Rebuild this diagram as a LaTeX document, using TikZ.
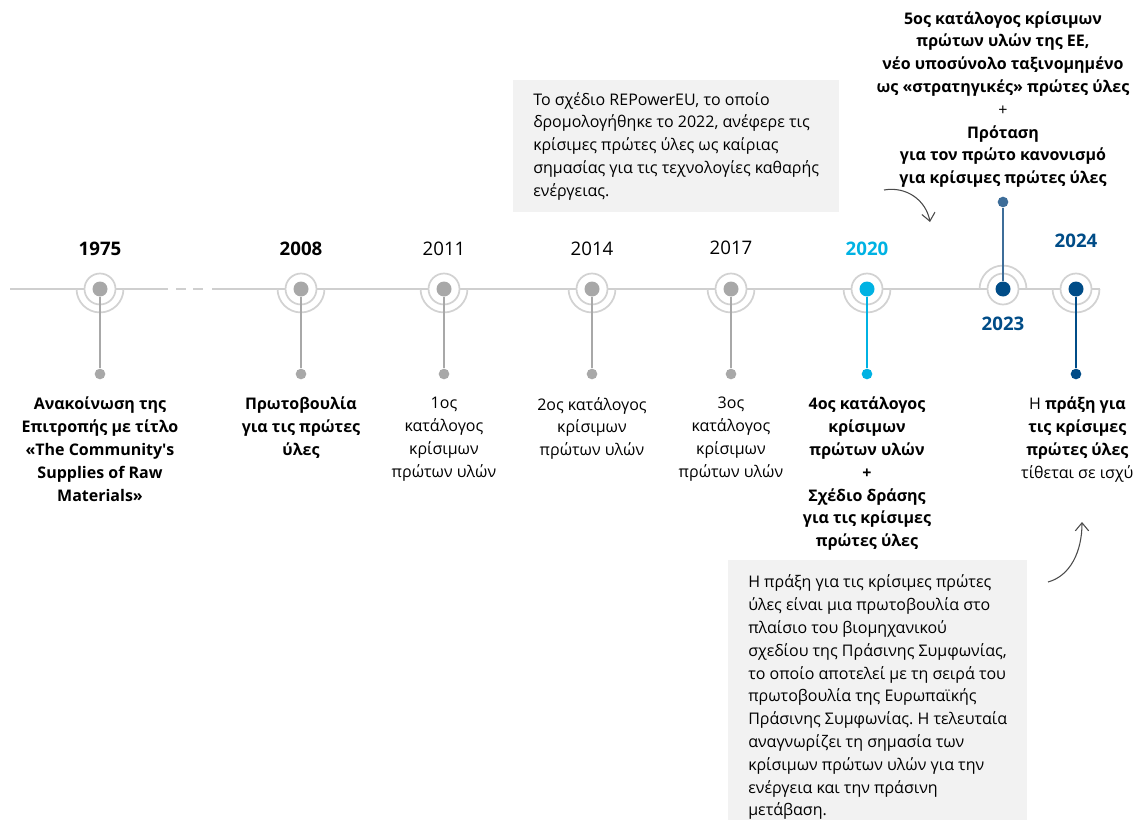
\documentclass[tikz,border=0pt]{standalone}
\usepackage{fontspec}
\setmainfont{Open Sans}
\usetikzlibrary{arrows.meta,positioning}
\definecolor{dotgray}{HTML}{A8A8A8}
\definecolor{ringgray}{HTML}{D2D2D2}
\definecolor{linegray}{HTML}{CFCFCF}
\definecolor{euCyan}{HTML}{00B2E3}
\definecolor{euNavy}{HTML}{004C87}
\definecolor{euSteel}{HTML}{3D6D99}
\definecolor{noteGray}{HTML}{F2F2F2}
\definecolor{arrowGray}{HTML}{4A4A4A}
\tikzset{
     timeline/.style = {draw=linegray, line width=1.5pt},
     ring/.style     = {circle, draw=ringgray, line width=1.3pt, fill=white, minimum size=23.25pt, inner sep=0pt},
     halo/.style     = {draw=ringgray, line width=1.3pt},
     event/.style    = {circle, fill=#1, minimum size=11.25pt, inner sep=0pt},
     tip/.style      = {circle, fill=#1, minimum size=8pt, inner sep=0pt},
     stem/.style     = {draw=#1, line width=1.5pt},
     year/.style     = {inner sep=0pt, font=\fontsize{14}{17}\selectfont},
     evtext/.style   = {inner sep=0pt, align=center, font=\fontsize{12}{17.1}\selectfont},
     evbold/.style   = {evtext, font=\fontsize{12}{17.1}\selectfont\bfseries},
     note/.style     = {fill=noteGray, anchor=north west, align=left, inner xsep=15pt,
                        font=\fontsize{12}{17.1}\selectfont},
     curvy/.style    = {draw=arrowGray, line width=0.8pt, -{Straight Barb[length=6pt,width=10pt]}},
    }
\begin{document}
\frenchspacing
\begin{tikzpicture}[x=0.75pt,y=-0.75pt]
    \useasboundingbox (0,0) rectangle (1134,820);

    % timeline
    \coordinate (tlA) at (10,289);
    \coordinate (tlB) at (168,289);
    \coordinate (tlC) at (212,289);
    \coordinate (tlD) at (1100,289);
    \draw[timeline] (tlA) -- (tlB) (tlC) -- (tlD);
    \draw[timeline, dash pattern=on 0pt off 6pt on 7.5pt off 5.25pt on 7.5pt off 6.75pt] (tlB) -- (tlC);

    % rings
    \node[ring] (r1975) at (100,289)  {};
    \node[ring] (r2008) at (301,289)  {};
    \node[ring] (r2011) at (444,289)  {};
    \node[ring] (r2014) at (592,289)  {};
    \node[ring] (r2017) at (731,289)  {};
    \node[ring] (r2020) at (867,289)  {};
    \node[ring] (r2023) at (1003,289) {};
    \node[ring] (r2024) at (1076,289) {};

    \draw[halo] ([xshift=-17.6pt]r1975.center) arc[start angle=180, end angle=360, radius=17.6pt];
    \draw[halo] ([xshift=-17.6pt]r2008.center) arc[start angle=180, end angle=360, radius=17.6pt];
    \draw[halo] ([xshift=-17.6pt]r2011.center) arc[start angle=180, end angle=360, radius=17.6pt];
    \draw[halo] ([xshift=-17.6pt]r2014.center) arc[start angle=180, end angle=360, radius=17.6pt];
    \draw[halo] ([xshift=-17.6pt]r2017.center) arc[start angle=180, end angle=360, radius=17.6pt];
    \draw[halo] ([xshift=-17.6pt]r2020.center) arc[start angle=180, end angle=360, radius=17.6pt];
    \draw[halo] ([xshift=-17.6pt]r2023.center) arc[start angle=180, end angle=0, radius=17.6pt];
    \draw[halo] ([xshift=-17.6pt]r2024.center) arc[start angle=180, end angle=360, radius=17.6pt];

    % event dots
    \node[event=dotgray] (e1975) at (r1975) {};
    \node[event=dotgray] (e2008) at (r2008) {};
    \node[event=dotgray] (e2011) at (r2011) {};
    \node[event=dotgray] (e2014) at (r2014) {};
    \node[event=dotgray] (e2017) at (r2017) {};
    \node[event=euCyan]  (e2020) at (r2020) {};
    \node[event=euNavy]  (e2023) at (r2023) {};
    \node[event=euNavy]  (e2024) at (r2024) {};

    % stem ends
    \node[tip=dotgray] (d1975) at (100,374)  {};
    \node[tip=dotgray] (d2008) at (301,374)  {};
    \node[tip=dotgray] (d2011) at (444,374)  {};
    \node[tip=dotgray] (d2014) at (592,374)  {};
    \node[tip=dotgray] (d2017) at (731,374)  {};
    \node[tip=euCyan]  (d2020) at (867,374)  {};
    \node[tip=euSteel] (t2023) at (1003,202) {};
    \node[tip=euNavy]  (d2024) at (1076,374) {};

    \draw[stem=dotgray] (e1975) -- (d1975);
    \draw[stem=dotgray] (e2008) -- (d2008);
    \draw[stem=dotgray] (e2011) -- (d2011);
    \draw[stem=dotgray] (e2014) -- (d2014);
    \draw[stem=dotgray] (e2017) -- (d2017);
    \draw[stem=euCyan]  (e2020) -- (d2020);
    \draw[stem=euSteel] (e2023) -- (t2023);
    \draw[stem=euNavy]  (e2024) -- (d2024);

    % years
    \node[year, above=19pt of e1975] (y1975) {\bfseries 1975};
    \node[year, above=19pt of e2008] (y2008) {\bfseries 2008};
    \node[year, above=19pt of e2011] (y2011) {2011};
    \node[year, above=19pt of e2014] (y2014) {2014};
    \node[year, above=19.5pt of e2017] (y2017) {2017};
    \node[year, above=19pt of e2020, text=euCyan] (y2020) {\bfseries 2020};
    \node[year, below=14.8pt of e2023, text=euNavy] (y2023) {\bfseries 2023};
    \node[year, above=25pt of e2024, text=euNavy] (y2024) {\bfseries 2024};

    % event texts
    \node[evbold, below=13pt of d1975] (x1975) {Ανακοίνωση της\\Επιτροπής με τίτλο\\«The Community\textquotesingle s\\Supplies of Raw\\Materials»};
    \node[evbold, below=13pt of d2008] (x2008) {Πρωτοβουλία\\για τις πρώτες\\ύλες};
    \node[evtext, below=13pt of d2011] (x2011) {1ος\\κατάλογος\\κρίσιμων\\πρώτων υλών};
    \node[evtext, below=13pt of d2014] (x2014) {2ος κατάλογος\\κρίσιμων\\πρώτων υλών};
    \node[evtext, below=13pt of d2017] (x2017) {3ος\\κατάλογος\\κρίσιμων\\πρώτων υλών};
    \node[evbold, below=13pt of d2020] (x2020) {4ος κατάλογος\\κρίσιμων\\πρώτων υλών\\+\\Σχέδιο δράσης\\για τις κρίσιμες\\πρώτες ύλες};
    \node[evtext, below=13pt of d2024, xshift=1pt] (x2024) {Η \textbf{πράξη για}\\\textbf{τις κρίσιμες}\\\textbf{πρώτες ύλες}\\τίθεται σε ισχύ};
    \node[evbold, above=6.5pt of t2023] (x2023) {5ος κατάλογος κρίσιμων\\πρώτων υλών της ΕΕ,\\νέο υποσύνολο ταξινομημένο\\ως «στρατηγικές» πρώτες ύλες\\\mdseries +\\Πρόταση\\για τον πρώτο κανονισμό\\για κρίσιμες πρώτες ύλες};

    % notes
    \node[note, inner ysep=9pt] (repower) at (513,80)
      {Το σχέδιο REPowerEU, το οποίο\\δρομολογήθηκε το 2022, ανέφερε τις\\κρίσιμες πρώτες ύλες ως καίριας\\σημασίας για τις τεχνολογίες καθαρής\\ενέργειας.};
    \node[note, inner ysep=11pt] (greendeal) at (728,560)
      {Η πράξη για τις κρίσιμες πρώτες\\ύλες είναι μια πρωτοβουλία στο\\πλαίσιο του βιομηχανικού\\σχεδίου της Πράσινης Συμφωνίας,\\το οποίο αποτελεί με τη σειρά του\\πρωτοβουλία της Ευρωπαϊκής\\Πράσινης Συμφωνίας. Η τελευταία\\αναγνωρίζει τη σημασία των\\κρίσιμων πρώτων υλών για την\\ενέργεια και την πράσινη\\μετάβαση.};

    % pointers
    \coordinate (p1s) at (884,190);
    \coordinate (p1e) at (930,222);
    \coordinate (p2s) at (1048,582);
    \coordinate (p2e) at (1082,522);
    \draw[curvy] (p1s) .. controls (906,186) and (926,200) .. (p1e);
    \draw[curvy] (p2s) .. controls (1070,576) and (1082,552) .. (p2e);
\end{tikzpicture}
\end{document}
